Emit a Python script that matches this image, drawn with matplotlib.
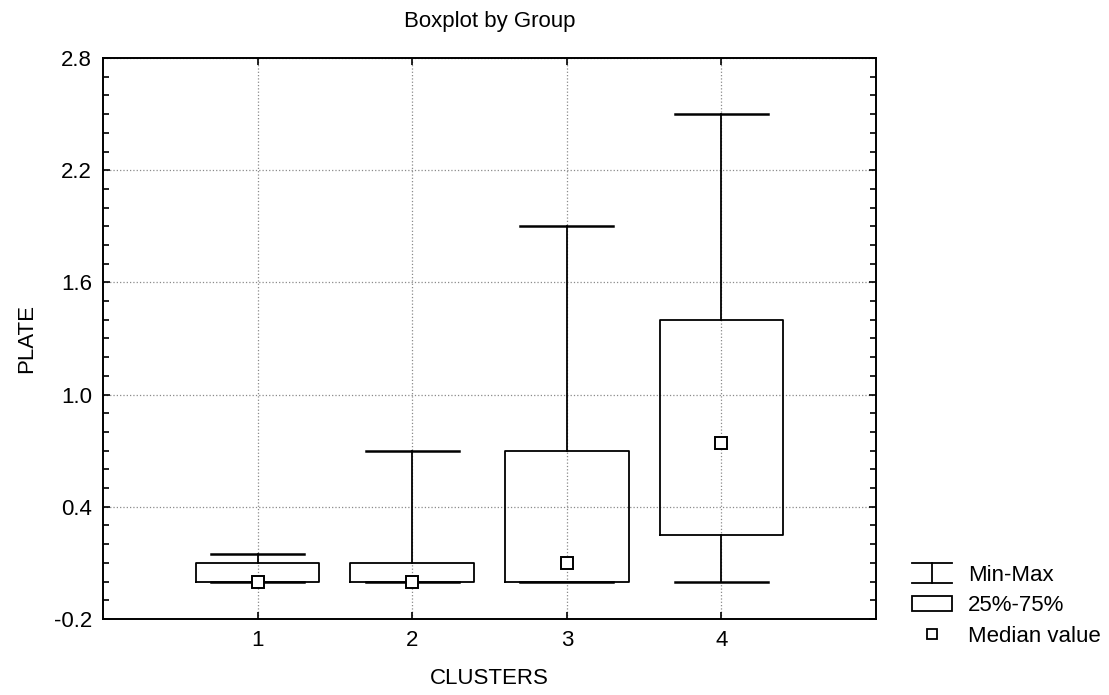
import matplotlib
matplotlib.use("Agg")
import matplotlib.pyplot as plt
from matplotlib.legend_handler import HandlerBase
from matplotlib.lines import Line2D
from matplotlib.patches import Rectangle

plt.rcParams['font.family'] = ['Liberation Sans', 'DejaVu Sans']

# Cluster summary statistics for PLATE
clusters = [1, 2, 3, 4]
mins = [0.0, 0.0, 0.0, 0.0]
q1s = [0.0, 0.0, 0.0, 0.25]
medians = [0.0, 0.0, 0.1, 0.74]
q3s = [0.1, 0.1, 0.7, 1.4]
maxs = [0.15, 0.7, 1.9, 2.5]

y_ticks = [-0.2, 0.4, 1.0, 1.6, 2.2, 2.8]
fs = 16


class MinMaxHandler(HandlerBase):
    # legend glyph: two caps joined by a vertical stem
    def create_artists(self, legend, orig_handle, xdescent, ydescent,
                       width, height, fontsize, trans):
        x0, x1 = -xdescent, -xdescent + width
        y0, y1 = -ydescent - 0.15 * height, -ydescent + 1.15 * height
        xm = (x0 + x1) / 2
        kw = dict(color='black', lw=1.3, transform=trans)
        return [Line2D([x0, x1], [y1, y1], **kw),
                Line2D([x0, x1], [y0, y0], **kw),
                Line2D([xm, xm], [y0, y1], **kw)]


fig = plt.figure(figsize=(11.09, 6.95), dpi=100)
ax = fig.add_axes([0.0929, 0.1094, 0.6971, 0.8071])

stats = [dict(whislo=lo, q1=a, med=m, q3=b, whishi=hi)
         for lo, a, m, b, hi in zip(mins, q1s, medians, q3s, maxs)]
ax.bxp(stats, positions=clusters, widths=0.8, capwidths=0.6,
       showfliers=False,
       boxprops=dict(color='black', lw=1.3),
       whiskerprops=dict(color='black', lw=1.3),
       capprops=dict(color='black', lw=1.8),
       medianprops=dict(linestyle='none'))
ax.plot(clusters, medians, linestyle='none', marker='s', markersize=8,
        markerfacecolor='white', markeredgecolor='black', markeredgewidth=1.4,
        zorder=5)

ax.set_xlim(0, 5)
ax.set_ylim(-0.2, 2.8)
ax.set_xticks(clusters)
ax.set_xticklabels([str(c) for c in clusters])
ax.set_yticks(y_ticks)
ax.set_yticklabels([f"{v:.1f}" for v in y_ticks])
ax.set_yticks([v / 10 for v in range(-2, 29)], minor=True)
ax.tick_params(axis='both', which='both', direction='in', top=True,
               right=True, labelsize=fs, pad=8, width=1.2)
ax.tick_params(axis='both', which='major', length=5)
ax.tick_params(axis='y', which='minor', length=4)
ax.tick_params(axis='x', which='minor', bottom=False, top=False)
for s in ax.spines.values():
    s.set_linewidth(1.4)
ax.grid(True, which='major', linestyle=':', color='#8a8a8a', lw=0.9)
ax.set_axisbelow(True)

ax.set_title("Boxplot by Group", fontsize=fs, pad=22)
ax.set_xlabel("CLUSTERS", fontsize=fs, labelpad=12)
ax.set_ylabel("PLATE", fontsize=fs, labelpad=12)

handles = [Line2D([], []),
           Rectangle((0, 0), 1, 1, facecolor='white', edgecolor='black', lw=1.3),
           Line2D([], [], linestyle='none', marker='s', markersize=7,
                  markerfacecolor='white', markeredgecolor='black',
                  markeredgewidth=1.3)]
fig.legend(handles, ["Min-Max", "25%-75%", "Median value"],
           handler_map={handles[0]: MinMaxHandler()},
           loc='upper left', bbox_to_anchor=(0.812, 0.203),
           frameon=False, fontsize=fs, handlelength=1.8,
           handletextpad=0.75, labelspacing=0.42, borderpad=0)

fig.savefig("out.png", dpi=100)
